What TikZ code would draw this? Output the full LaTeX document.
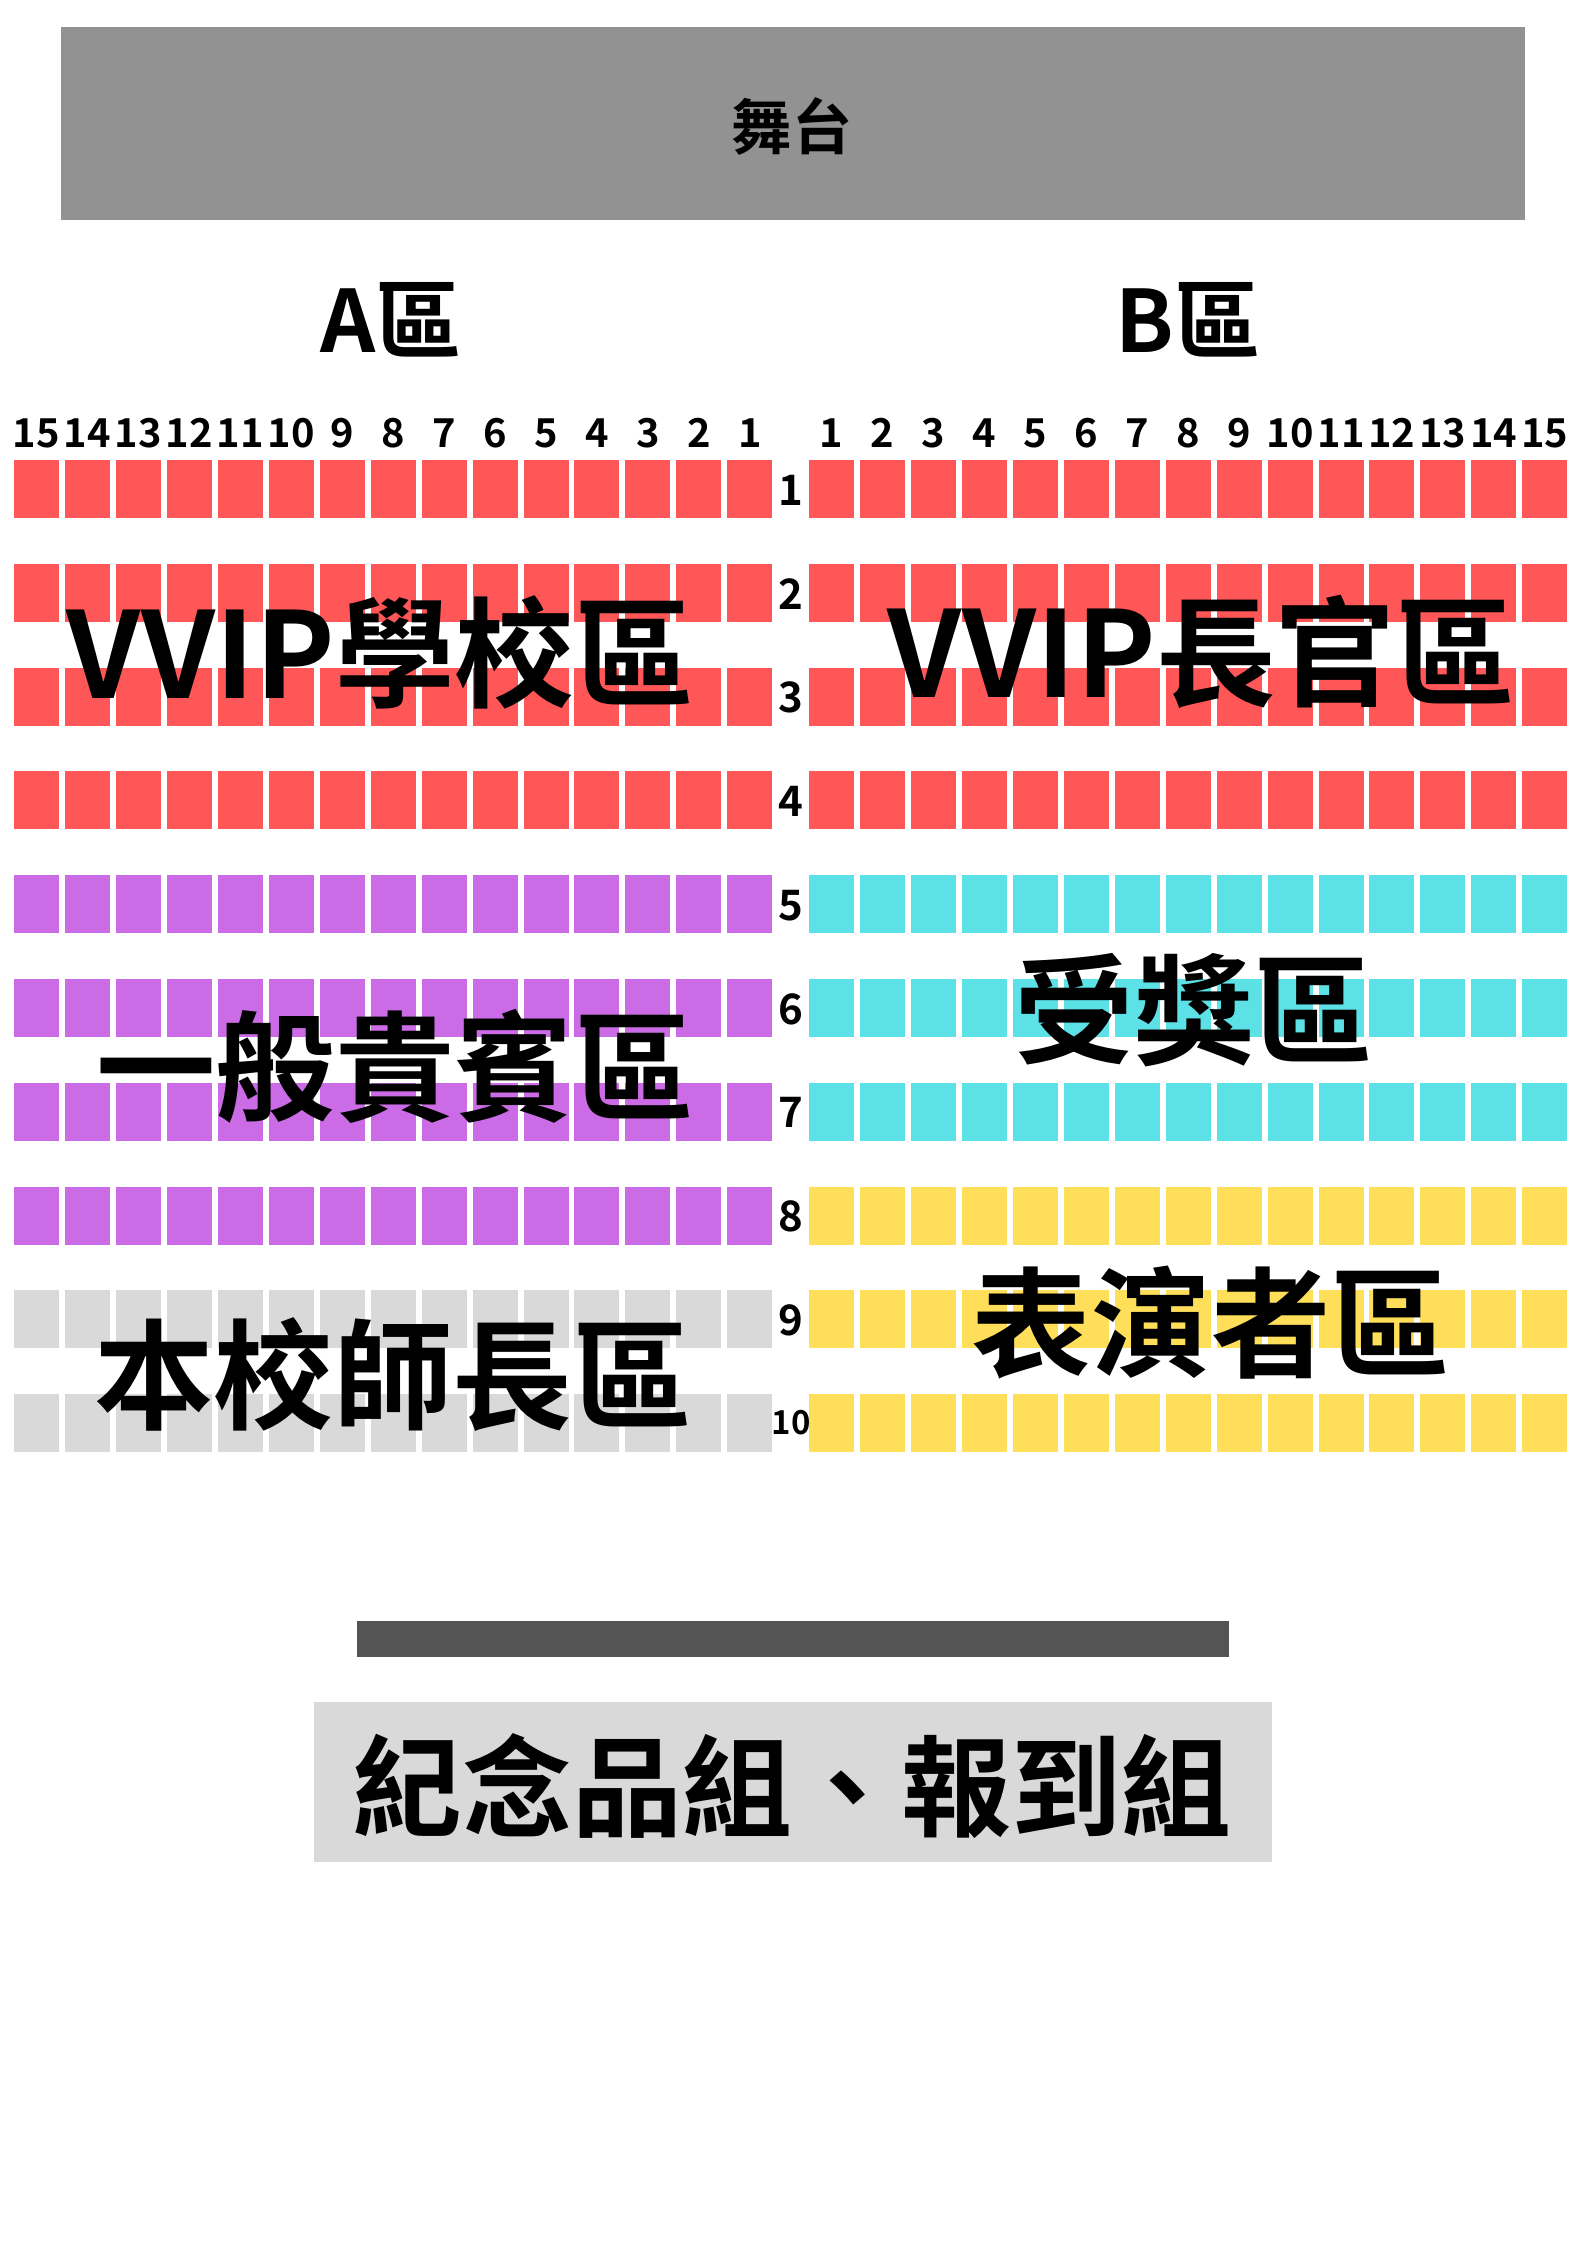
\documentclass[tikz,border=0pt]{standalone}
\usepackage{fontspec}
\setmainfont{Noto Sans CJK TC}[BoldFont={Noto Sans CJK TC Bold}]
\usetikzlibrary{calc}
\definecolor{stagegray}{HTML}{929292}
\definecolor{bargray}{HTML}{545454}
\definecolor{boxgray}{HTML}{D9D9D9}
\definecolor{seatred}{HTML}{FF5757}
\definecolor{seatpurple}{HTML}{CB6CE6}
\definecolor{seatcyan}{HTML}{5CE1E6}
\definecolor{seatyellow}{HTML}{FFDE59}
\definecolor{seatgray}{HTML}{D9D9D9}

\begin{document}
\begin{tikzpicture}[x=0.13233mm,y=-0.13233mm,
  every node/.style={inner sep=0pt},
  colnum/.style={font=\bfseries\fontsize{15}{15}\selectfont},
  rownum/.style={font=\bfseries\fontsize{15.8}{16}\selectfont},
  hdr/.style={font=\bfseries\fontsize{32.4}{33}\selectfont},
  zone/.style={font=\bfseries\fontsize{45}{46}\selectfont}]
  \fill[white] (0,0) rectangle (1587,2245);
  \useasboundingbox (0,0) rectangle (1587,2245);

  \fill[stagegray] (61,27) rectangle (1525,220);
  \node[font=\bfseries\fontsize{22.6}{23}\selectfont] (stage) at (792,126) {舞台};

  \node[hdr] (hdrA) at (391,320) {A區};
  \node[hdr] (hdrB) at (1188,320) {B區};

  \foreach \c [evaluate=\c as \n using int(16-\c)] in {1,...,15}{
    \node[colnum] (colA-\n) at ({36.5+(\c-1)*50.95},433) {\n};
    \node[colnum] (colB-\c) at ({831.5+(\c-1)*50.95},433) {\c};
  }

  \foreach \r/\ca/\cb in {1/seatred/seatred,2/seatred/seatred,3/seatred/seatred,
      4/seatred/seatred,5/seatpurple/seatcyan,6/seatpurple/seatcyan,
      7/seatpurple/seatcyan,8/seatpurple/seatyellow,9/seatgray/seatyellow,
      10/seatgray/seatyellow}{
    \foreach \c in {1,...,15}{
      \fill[\ca] ({14+(\c-1)*50.95},{460+(\r-1)*103.8}) rectangle +(45,58);
      \fill[\cb] ({809+(\c-1)*50.95},{460+(\r-1)*103.8}) rectangle +(45,58);
    }
  }
  \foreach \r in {1,...,9}
    \node[rownum] (row-\r) at (791,{490+(\r-1)*103.8}) {\r};
  \node[font=\bfseries\fontsize{12.4}{13}\selectfont] (row-10) at (791,1423) {10};

  \node[zone] (vvipA) at (380,652) {VVIP學校區};
  \node[zone] (vvipB) at (1201,652) {VVIP長官區};
  \node[zone] (guest) at (395,1066) {一般貴賓區};
  \node[zone] (award) at (1194,1010) {受獎區};
  \node[zone] (perf) at (1211,1323) {表演者區};
  \node[zone] (staff) at (393,1375) {本校師長區};

  \fill[bargray] (357,1621) rectangle (1229,1657);
  \fill[boxgray] (314,1702) rectangle (1272,1862);
  \node[font=\bfseries\fontsize{41.4}{42}\selectfont] (desk) at (792,1786) {紀念品組、報到組};
\end{tikzpicture}
\end{document}
